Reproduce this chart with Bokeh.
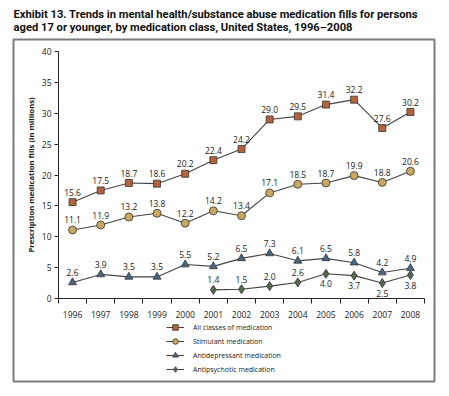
from bokeh.plotting import figure
from bokeh.models import FixedTicker, Legend, LegendItem, ColumnDataSource
from bokeh.core.properties import value
from bokeh.embed import file_html
from bokeh.resources import INLINE

years = list(range(1996, 2009))
all_classes = [15.6, 17.5, 18.7, 18.6, 20.2, 22.4, 24.2, 29.0, 29.5, 31.4, 32.2, 27.6, 30.2]
stimulant = [11.1, 11.9, 13.2, 13.8, 12.2, 14.2, 13.4, 17.1, 18.5, 18.7, 19.9, 18.8, 20.6]
antidepressant = [2.6, 3.9, 3.5, 3.5, 5.5, 5.2, 6.5, 7.3, 6.1, 6.5, 5.8, 4.2, 4.9]
antipsych_years = list(range(2001, 2009))
antipsychotic = [1.4, 1.5, 2.0, 2.6, 4.0, 3.7, 2.5, 3.8]
antipsych_label_below = [False, False, False, False, True, True, True, True]
y_ticks = [0, 5, 10, 15, 20, 25, 30, 35, 40]
series_names = ["All classes of medication", "Stimulant medication",
                "Antidepressant medication", "Antipsychotic medication"]
title_text = ("Exhibit 13. Trends in mental health/substance abuse medication fills for persons\n"
              "aged 17 or younger, by medication class, United States, 1996\u20132008")

FONT = "Open Sans"
TXT = "#1a1a1a"

# axis extents of the chart region
X0, X1 = years[0] - 0.5, years[-1] + 0.5
Y0, Y1 = 0, 40
# the plot frame is the bordered box; it extends past the chart region
px_per_year = 366 / (X1 - X0)
px_per_unit = 247 / (Y1 - Y0)
x_range = (X0 - 45 / px_per_year, X1 + 10 / px_per_year)
y_range = (Y0 - 83 / px_per_unit, Y1 + 12 / px_per_unit)

p = figure(width=440, height=387, output_backend="svg", toolbar_location=None,
           x_range=x_range, y_range=y_range,
           min_border_left=13, min_border_right=6, min_border_top=39, min_border_bottom=6)

p.title.text = title_text
p.title.align = "left"
p.title.offset = 0
p.title.text_font = "Roboto"
p.title.text_font_size = "11.2px"
p.title.text_font_style = "bold"
p.title.text_color = "#111111"
p.title.standoff = 11

p.grid.visible = False
p.outline_line_color = "#7c7c7c"
p.outline_line_width = 2

# x axis drawn at y = 0
p.xaxis.fixed_location = Y0
p.xaxis.bounds = (X0, X1)
p.xaxis.ticker = FixedTicker(ticks=years, minor_ticks=[y - 0.5 for y in years] + [X1])
p.xaxis.major_tick_line_color = None
p.xaxis.minor_tick_line_color = "#222222"
p.xaxis.minor_tick_out = 5
p.xaxis.minor_tick_in = 0
p.xaxis.major_label_standoff = 6

# y axis drawn at the left edge of the chart region
p.yaxis.fixed_location = X0
p.yaxis.bounds = (Y0, Y1)
p.yaxis.ticker = FixedTicker(ticks=y_ticks, minor_ticks=[])
p.yaxis.major_tick_out = 4
p.yaxis.major_tick_in = 0
p.yaxis.major_label_standoff = 3
p.yaxis.axis_label = "Prescription medication fills (in millions)"
p.yaxis.axis_label_standoff = 3
p.yaxis.axis_label_text_font = FONT
p.yaxis.axis_label_text_font_size = "7.7px"
p.yaxis.axis_label_text_font_style = "bold"
p.yaxis.axis_label_text_color = TXT
p.yaxis.major_tick_line_color = "#222222"
for ax in (p.xaxis, p.yaxis):
    ax.axis_line_color = "#222222"
    ax.major_label_text_font = FONT
    ax.major_label_text_font_size = "8.5px"
    ax.major_label_text_color = TXT

line_col = "#444444"
edge = "#333333"

def draw(xs, ys, marker, size, fill):
    ln = p.line(xs, ys, line_color=line_col, line_width=1.1)
    sc = p.scatter(xs, ys, marker=marker, size=size, fill_color=fill, line_color=edge, line_width=0.8)
    return [ln, sc]

r_all = draw(years, all_classes, "square", 7, "#b4643c")
r_sti = draw(years, stimulant, "circle", 8, "#c9a961")
r_ant = draw(years, antidepressant, "triangle", 8, "#4a6680")
r_psy = draw(antipsych_years, antipsychotic, "diamond", 9, "#56694f")

def labels(xs, ys, below=False):
    src = ColumnDataSource(dict(x=xs, y=ys, t=[f"{v:.1f}" for v in ys]))
    p.text("x", "y", text="t", source=src, text_align="center",
           text_baseline="middle", y_offset=(10 if below else -10),
           text_font=value(FONT), text_font_size="8.5px", text_color=TXT)

labels(years, all_classes)
labels(years, stimulant)
labels(years, antidepressant)
labels([x for x, b in zip(antipsych_years, antipsych_label_below) if not b],
       [v for v, b in zip(antipsychotic, antipsych_label_below) if not b])
labels([x for x, b in zip(antipsych_years, antipsych_label_below) if b],
       [v for v, b in zip(antipsychotic, antipsych_label_below) if b], below=True)

legend = Legend(items=[LegendItem(label=n, renderers=r) for n, r in
                       zip(series_names, [r_all, r_sti, r_ant, r_psy])],
                location=(153, 5), orientation="vertical",
                glyph_width=18, glyph_height=14, label_height=14, spacing=0,
                padding=0, margin=0, label_standoff=9,
                border_line_color=None, background_fill_alpha=0,
                label_text_font=FONT, label_text_font_size="7px",
                label_text_color=TXT)
p.add_layout(legend)

open("out.html", "w").write(file_html(p, INLINE))
